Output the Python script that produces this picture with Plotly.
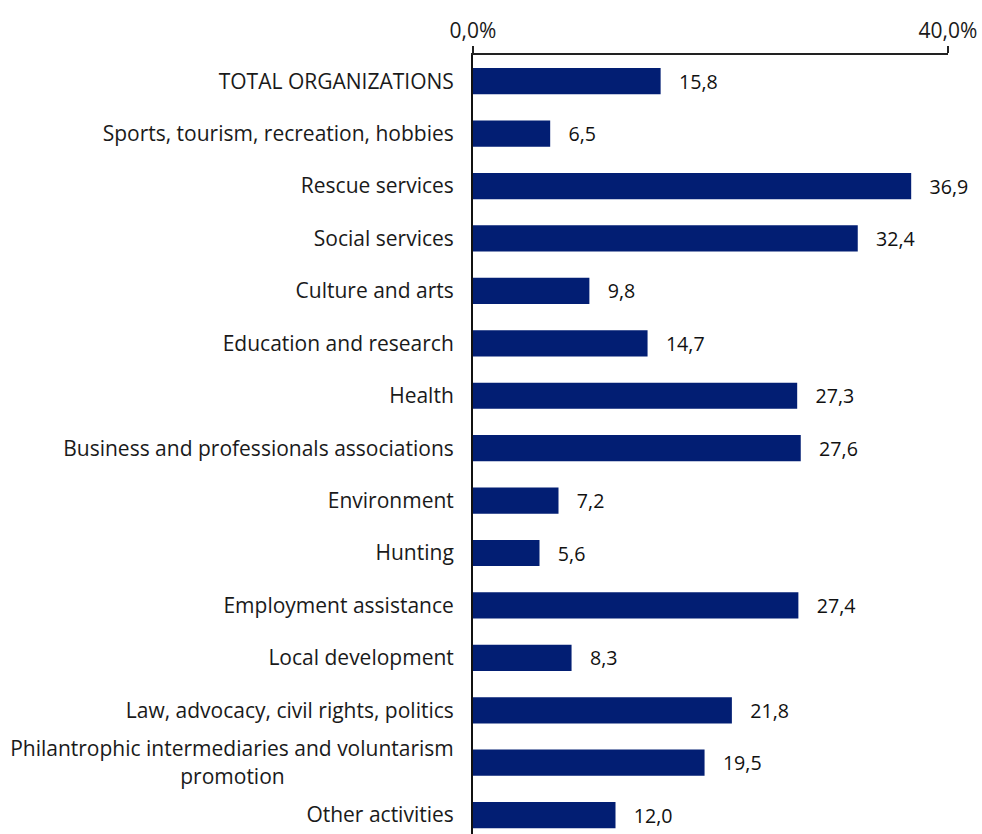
import plotly.graph_objects as go

categories = [
    "TOTAL ORGANIZATIONS",
    "Sports, tourism, recreation, hobbies",
    "Rescue services",
    "Social services",
    "Culture and arts",
    "Education and research",
    "Health",
    "Business and professionals associations",
    "Environment",
    "Hunting",
    "Employment assistance",
    "Local development",
    "Law, advocacy, civil rights, politics",
    "Philantrophic intermediaries and voluntarism<br>promotion" + "\u00a0" * 31,
    "Other activities",
]
values = [15.8, 6.5, 36.9, 32.4, 9.8, 14.7, 27.3, 27.6, 7.2, 5.6, 27.4, 8.3, 21.8, 19.5, 12.0]
tick_vals = [0, 40]
tick_text = ["0,0%", "40,0%"]

FONT = "Open Sans"
FS = 21

fig = go.Figure(
    go.Bar(
        x=values,
        y=categories,
        orientation="h",
        marker=dict(color="#021E73", line=dict(width=0)),
        width=0.5,
        texttemplate="\u00a0\u00a0\u00a0%{x:.1f}",
        textposition="outside",
        textfont=dict(size=FS, color="#111111", family=FONT),
        cliponaxis=False,
    )
)

fig.update_layout(
    width=982,
    height=834,
    separators=",.",
    plot_bgcolor="white",
    paper_bgcolor="white",
    margin=dict(l=473, r=34, t=55, b=0),
    font=dict(family=FONT, size=FS, color="#1a1a1a"),
    showlegend=False,
    xaxis=dict(
        side="top",
        range=[0, 40],
        tickvals=tick_vals,
        ticktext=tick_text,
        showgrid=False,
        zeroline=False,
        showline=True,
        linecolor="#222222",
        linewidth=1.5,
        ticks="outside",
        ticklen=7,
        tickcolor="#222222",
        tickwidth=1.5,
        tickfont=dict(size=FS, family=FONT, color="#1a1a1a"),
    ),
    yaxis=dict(
        autorange=False,
        range=[14.36, -0.5],
        showgrid=False,
        zeroline=False,
        showline=True,
        linecolor="#111111",
        linewidth=2,
        ticks="",
        ticklabelstandoff=13,
        tickfont=dict(size=FS, family=FONT, color="#1a1a1a"),
    ),
)

fig.write_html(
    "out.html",
    config={"displayModeBar": False},
    post_script="document.body.style.margin='0';document.body.style.overflow='hidden';",
)
